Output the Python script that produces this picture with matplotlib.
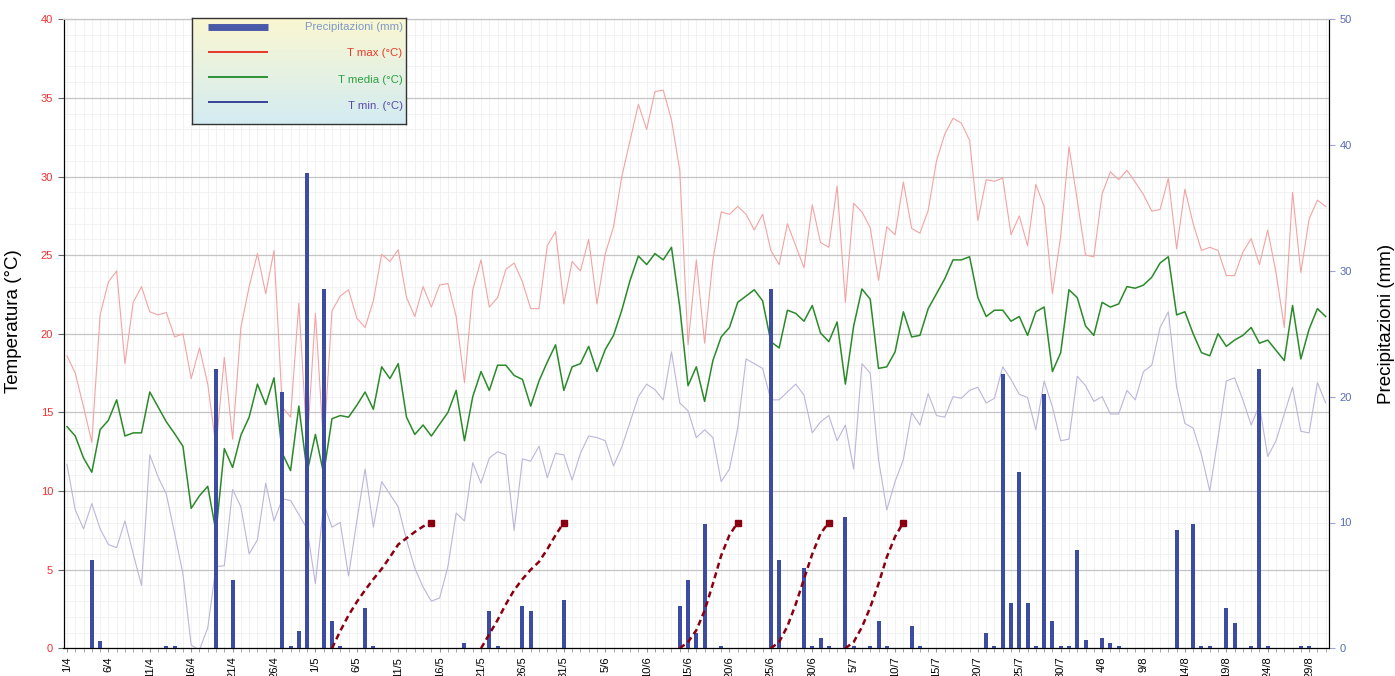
import numpy as np
import matplotlib
matplotlib.use("Agg")
import matplotlib.pyplot as plt
from matplotlib.ticker import MultipleLocator

plt.rcParams["font.family"] = ["Liberation Sans", "DejaVu Sans"]

# daily values, 1/4 .. 31/8
t_max = [18.6, 17.5, 15.35, 13.1, 21.2, 23.3, 24.0, 18.1, 22.0, 23.0,
         21.4, 21.2, 21.35, 19.8, 20.0, 17.15, 19.1, 16.8, 12.8, 18.5,
         13.3, 20.4, 23.0, 25.1, 22.55, 25.3, 15.35, 14.7, 21.95, 12.9,
         21.3, 12.8, 21.45, 22.4, 22.8, 21.0, 20.4, 22.1, 25.05, 24.6,
         25.35, 22.3, 21.1, 23.0, 21.7, 23.1, 23.2, 21.1, 16.9, 22.8,
         24.7, 21.7, 22.3, 24.1, 24.5, 23.3, 21.6, 21.6, 25.6, 26.5,
         21.9, 24.6, 24.0, 26.0, 21.9, 25.1, 26.8, 30.0, 32.3, 34.6,
         33.0, 35.4, 35.5, 33.6, 30.4, 19.3, 24.7, 19.4, 24.7, 27.75,
         27.6, 28.1, 27.6, 26.6, 27.6, 25.3, 24.4, 27.0, 25.6, 24.2,
         28.2, 25.8, 25.5, 29.4, 22.0, 28.3, 27.75, 26.75, 23.4, 26.8,
         26.3, 29.65, 26.7, 26.4, 27.85, 31.0, 32.7, 33.7, 33.4, 32.3,
         27.2, 29.8, 29.7, 29.9, 26.3, 27.5, 25.6, 29.5, 28.1, 22.55,
         26.2, 31.9, 28.5, 25.0, 24.9, 28.9, 30.3, 29.8, 30.4, 29.65,
         28.85, 27.8, 27.9, 29.9, 25.4, 29.2, 27.0, 25.3, 25.5, 25.3,
         23.7, 23.7, 25.2, 26.05, 24.4, 26.6, 23.9, 20.4, 29.0, 23.9,
         27.3, 28.5, 28.1]

t_mean = [14.1, 13.5, 12.1, 11.2, 13.9, 14.5, 15.8, 13.5, 13.7, 13.7,
          16.3, 15.35, 14.4, 13.65, 12.85, 8.9, 9.7, 10.3, 7.4, 12.7,
          11.5, 13.55, 14.7, 16.8, 15.5, 17.2, 12.4, 11.3, 15.4, 11.2,
          13.6, 11.1, 14.6, 14.8, 14.7, 15.45, 16.3, 15.2, 17.9, 17.15,
          18.1, 14.7, 13.6, 14.2, 13.5, 14.25, 15.0, 16.4, 13.2, 16.0,
          17.6, 16.4, 18.0, 18.0, 17.35, 17.1, 15.4, 17.0, 18.2, 19.3,
          16.4, 17.9, 18.1, 19.2, 17.6, 19.0, 19.9, 21.5, 23.4, 24.95,
          24.4, 25.1, 24.7, 25.5, 21.7, 16.7, 17.9, 15.7, 18.3, 19.8,
          20.4, 22.0, 22.4, 22.8, 22.1, 19.5, 19.1, 21.5, 21.3, 20.8,
          21.8, 20.05, 19.5, 20.75, 16.8, 20.5, 22.85, 22.2, 17.8, 17.9,
          18.85, 21.4, 19.8, 19.9, 21.6, 22.55, 23.5, 24.7, 24.7, 24.9,
          22.3, 21.1, 21.5, 21.5, 20.8, 21.1, 19.9, 21.4, 21.7, 17.6,
          18.8, 22.8, 22.3, 20.5, 19.9, 22.0, 21.7, 21.9, 23.0, 22.9,
          23.1, 23.6, 24.5, 24.9, 21.2, 21.4, 20.0, 18.8, 18.6, 20.0,
          19.2, 19.6, 19.9, 20.4, 19.4, 19.6, 18.95, 18.3, 21.8, 18.4,
          20.3, 21.6, 21.1]

t_min = [11.7, 8.8, 7.6, 9.2, 7.6, 6.6, 6.4, 8.1, 6.0, 4.0,
         12.3, 10.9, 9.8, 7.3, 4.75, 0.2, -0.1, 1.3, 5.2, 5.25,
         10.1, 9.0, 6.0, 6.9, 10.5, 8.1, 9.5, 9.4, 8.5, 7.6,
         4.1, 9.2, 7.7, 8.0, 4.6, 8.1, 11.4, 7.7, 10.6, 9.8,
         9.0, 6.9, 5.1, 3.9, 3.0, 3.2, 5.2, 8.6, 8.1, 11.8,
         10.5, 12.1, 12.5, 12.3, 7.5, 12.05, 11.9, 12.85, 10.85, 12.4,
         12.3, 10.7, 12.4, 13.5, 13.4, 13.2, 11.6, 12.8, 14.4, 16.0,
         16.8, 16.45, 15.8, 18.85, 15.6, 15.1, 13.4, 13.9, 13.4, 10.6,
         11.4, 14.0, 18.4, 18.1, 17.8, 15.8, 15.8, 16.3, 16.8, 16.1,
         13.7, 14.4, 14.8, 13.2, 14.2, 11.4, 18.1, 17.5, 12.0, 8.8,
         10.6, 12.0, 15.0, 14.2, 16.2, 14.8, 14.7, 16.0, 15.9, 16.4,
         16.6, 15.6, 15.9, 17.9, 17.1, 16.15, 15.95, 13.9, 17.0, 15.35,
         13.2, 13.3, 17.3, 16.7, 15.7, 16.0, 14.9, 14.9, 16.4, 15.8,
         17.6, 18.0, 20.4, 21.4, 16.6, 14.3, 14.0, 12.3, 10.0, 13.4,
         17.0, 17.2, 15.8, 14.2, 15.45, 12.2, 13.2, 14.9, 16.6, 13.8,
         13.7, 16.9, 15.6]

# rainy days (day index from 1/4) and mm
rain_day = [3, 4, 12, 13, 18, 20, 26, 27, 28, 29, 31, 32, 33, 36, 37, 48,
            51, 52, 55, 56, 60, 74, 75, 76, 77, 79, 85, 86, 89, 90, 91, 92,
            94, 95, 97, 98, 99, 102, 103, 111, 112, 113, 114, 115, 116, 117,
            118, 119, 120, 121, 122, 123, 125, 126, 127, 134, 136, 137, 138,
            140, 141, 143, 144, 145, 149, 150]
rain_mm = [7.05, 0.6, 0.2, 0.2, 22.2, 5.45, 20.4, 0.2, 1.4, 37.8, 28.6, 2.2,
           0.2, 3.2, 0.2, 0.4, 3.0, 0.2, 3.4, 3.0, 3.8, 3.4, 5.45, 1.2, 9.85,
           0.2, 28.6, 7.05, 6.4, 0.2, 0.85, 0.2, 10.4, 0.2, 0.2, 2.2, 0.2,
           1.8, 0.2, 1.25, 0.2, 21.8, 3.6, 14.0, 3.6, 0.2, 20.25, 2.2, 0.2,
           0.2, 7.85, 0.64, 0.85, 0.42, 0.2, 9.4, 9.85, 0.2, 0.2, 3.2, 2.0,
           0.2, 22.2, 0.2, 0.2, 0.2]

# dashed progress curves: start day and daily values (left scale)
curve_start = [32, 50, 74, 85, 94]
curve_vals = [
    [0, 1.1, 2.1, 2.95, 3.7, 4.4, 5.05, 5.8, 6.6, 7.0, 7.4, 7.75, 8.0],
    [0, 0.9, 1.8, 2.8, 3.7, 4.4, 5.0, 5.5, 6.3, 7.2, 8.0],
    [0, 0.4, 1.15, 2.4, 4.1, 5.9, 7.2, 8.0],
    [0, 0.4, 1.4, 2.8, 4.4, 6.0, 7.3, 8.0],
    [0, 0.4, 1.35, 2.6, 4.1, 5.8, 7.1, 8.0],
]

tick_labels = ["1/4", "6/4", "11/4", "16/4", "21/4", "26/4", "1/5", "6/5",
               "11/5", "16/5", "21/5", "26/5", "31/5", "5/6", "10/6", "15/6",
               "20/6", "25/6", "30/6", "5/7", "10/7", "15/7", "20/7", "25/7",
               "30/7", "4/8", "9/8", "14/8", "19/8", "24/8", "29/8"]

x = np.arange(len(t_max))

fig = plt.figure(figsize=(13.95, 6.76), dpi=100)
ax = fig.add_axes([63.5 / 1395, 1 - 648.3 / 676, 1265.5 / 1395, 629 / 676])

ax.plot(x, t_max, color="#f3a3a3", lw=0.8)
ax.plot(x, t_min, color="#bdb5da", lw=0.8)
ax.plot(x, t_mean, color="#2a8a2a", lw=1.1)

ax.set_xlim(-0.42, 152.4)
ax.set_ylim(0, 40)
ax.yaxis.set_major_locator(MultipleLocator(5))
ax.yaxis.set_minor_locator(MultipleLocator(1))
ax.set_xticks(np.arange(0, len(x), 5))
ax.set_xticklabels(tick_labels, rotation=90, fontsize=8)
ax.xaxis.set_minor_locator(MultipleLocator(1))
ax.set_axisbelow(True)
ax.grid(which="minor", color="#f0f0f0", lw=0.6)
ax.grid(which="major", axis="x", color="#f0f0f0", lw=0.6)
ax.grid(which="major", axis="y", color="#c4c4c4", lw=0.9)
ax.tick_params(axis="y", which="major", labelcolor="#f03030", labelsize=8,
               length=4, color="#666666")
ax.tick_params(axis="y", which="minor", length=0)
ax.tick_params(axis="x", which="both", length=3, color="#999999", pad=3)
ax.spines["top"].set_color("#c4c4c4")
ax.set_ylabel("Temperatura (°C)", fontsize=13.5)
ax.yaxis.set_label_coords(-0.033, 0.52)

ax2 = ax.twinx()
ax2.bar(rain_day, rain_mm, width=0.48, color="#3b4ca2", zorder=2)
ax2.set_ylim(0, 50)
ax2.yaxis.set_major_locator(MultipleLocator(10))
ax2.tick_params(axis="y", labelcolor="#5b6bb5", labelsize=8, length=4,
                color="#9aa4cc")
ax2.spines["top"].set_color("#c4c4c4")
ax2.set_ylabel("Precipitazioni (mm)", fontsize=13.5)
ax2.yaxis.set_label_coords(1.039, 0.515)

for s, vals in zip(curve_start, curve_vals):
    xs = np.arange(s, s + len(vals))
    ax2.plot(xs, vals, transform=ax.transData, color="#8b0010", lw=1.8,
             linestyle=(0, (2.4, 1.6)), zorder=3)
    ax2.plot(xs[-1:], vals[-1:], transform=ax.transData, marker="s",
             ms=5, color="#8b0010", zorder=4)

# legend box with gradient
lax = fig.add_axes([192 / 1395, 1 - 124.3 / 676, 213.6 / 1395, 106 / 676])
top = np.array([0.98, 0.97, 0.82])
bot = np.array([0.83, 0.925, 0.95])
t = np.linspace(0, 1, 100)[:, None, None]
lax.imshow(top * (1 - t) + bot * t, extent=[0, 1, 0, 1], aspect="auto")
lax.set_xlim(0, 1)
lax.set_ylim(0, 1)
lax.set_xticks([])
lax.set_yticks([])
for sp in lax.spines.values():
    sp.set_color("#333333")
    sp.set_linewidth(1)

entries = [
    ("Precipitazioni (mm)", "#4a5aa8", 5.0, "#7f98c8", 0.915, 0.915),
    ("T max (°C)", "#e8281e", 1.3, "#ee3a2a", 0.685, 0.67),
    ("T media (°C)", "#1e8a2a", 1.3, "#2ea040", 0.446, 0.418),
    ("T min. (°C)", "#2c3590", 1.3, "#5a4aa8", 0.213, 0.173),
]
for label, lc, lw, tc, ly, ty in entries:
    lax.plot([0.075, 0.356], [ly, ly], color=lc, lw=lw,
             solid_capstyle="butt")
    lax.text(0.986, ty, label, color=tc, fontsize=8.2, ha="right",
             va="center")

fig.savefig("out.png", dpi=100)
